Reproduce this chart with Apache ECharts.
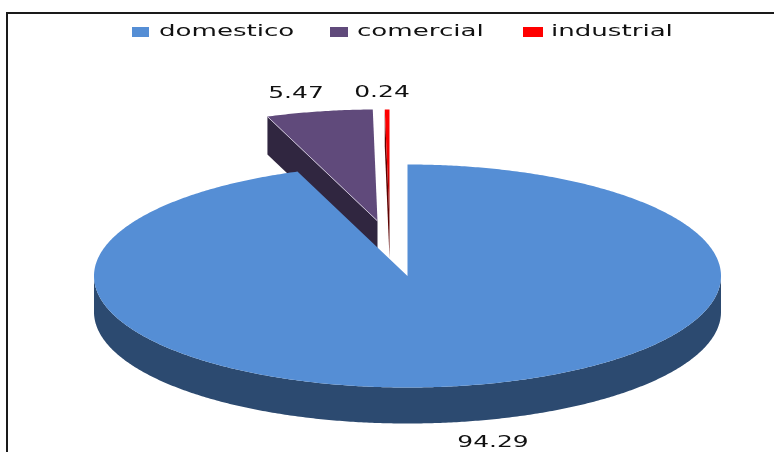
<!DOCTYPE html>
<html>
<head>
<meta charset="utf-8">
<style>
  html, body { margin: 0; padding: 0; background: #fff; }
  #chart { width: 774px; height: 452px; }
</style>
<script src="https://cdn.jsdelivr.net/npm/echarts@6/dist/echarts.min.js"></script>
</head>
<body>
<div id="chart"></div>
<script>
var categories = ["domestico", "comercial", "industrial"];
var values = [94.29, 5.47, 0.24];

var faceColors = ["#558ed5", "#604a7b", "#ff0000"];
var wallColors = ["#2c4a70", "#302640", "#5c0000"];

// ellipse of the tilted pie
var cx = 407.5, cy = 276, rx = 313.5, ry = 111.5;
// pulled out slices: offset and wall height
var sliceOffset = [[0, 0], [-30, -55], [-18, -55]];
var sliceDepth = [36, 38, 37];
var labelPos = [[493, 443], [296, 94], [382, 93]];
var legendIconX = [132, 330, 523];
var legendIconW = [17, 18, 20];
var legendTextX = [159, 357, 551];
var labelStretch = 1.56;
var legendStretch = 1.63;

var total = values.reduce(function (a, b) { return a + b; }, 0);

function rimPoint(center, deg, dy) {
  var a = deg * Math.PI / 180;
  return [center[0] + rx * Math.sin(a), center[1] - ry * Math.cos(a) + (dy || 0)];
}

function arc(center, from, to, dy) {
  var pts = [];
  for (var d = from; d < to; d += 0.5) pts.push(rimPoint(center, d, dy));
  pts.push(rimPoint(center, to, dy));
  return pts;
}

function renderSlice(params, api) {
  var i = params.dataIndex;
  var before = 0;
  for (var k = 0; k < i; k++) before += values[k];
  var start = before / total * 360;
  var end = (before + api.value(0)) / total * 360;
  var center = [cx + sliceOffset[i][0], cy + sliceOffset[i][1]];
  var depth = sliceDepth[i];
  var z = 10 - i;
  var children = [];

  // outer rim, only the front half is seen
  var from = Math.max(start, 90), to = Math.min(end, 270);
  if (to > from) {
    children.push({
      type: "polygon",
      z2: z,
      shape: { points: arc(center, from, to).concat(arc(center, from, to, depth).reverse()) },
      style: { fill: wallColors[i] }
    });
  }

  // cut face of the pulled out slices
  if (start > 180) {
    var tip = rimPoint(center, start);
    children.push({
      type: "polygon",
      z2: z,
      shape: { points: [tip, center, [center[0], center[1] + depth], [tip[0], tip[1] + depth]] },
      style: { fill: wallColors[i] }
    });
  }

  var fill = faceColors[i];
  if (i === 2) {
    fill = new echarts.graphic.LinearGradient(0, 0, 0, 1, [
      { offset: 0, color: "#ff0000" },
      { offset: 0.45, color: "#ee0000" },
      { offset: 1, color: "#7a0000" }
    ]);
  }
  children.push({
    type: "polygon",
    z2: z + 0.1,
    shape: { points: [center].concat(arc(center, start, end)) },
    style: { fill: fill }
  });

  if (i === 1) {
    children.push({
      type: "line",
      z2: z + 0.2,
      shape: { x1: rimPoint(center, start)[0], y1: rimPoint(center, start)[1], x2: center[0], y2: center[1] },
      style: { stroke: "#c8bfd4", lineWidth: 1 }
    });
  }

  children.push({
    type: "text",
    z2: 20,
    x: labelPos[i][0],
    y: labelPos[i][1],
    scaleX: labelStretch,
    style: {
      text: String(api.value(0)),
      font: "16px 'DejaVu Sans'",
      fill: "#111",
      textAlign: "center",
      textVerticalAlign: "middle"
    }
  });

  return { type: "group", children: children };
}

var legendItems = [];
categories.forEach(function (name, i) {
  legendItems.push({
    type: "rect",
    shape: { x: legendIconX[i], y: 27, width: legendIconW[i], height: 10 },
    style: { fill: faceColors[i] }
  });
  legendItems.push({
    type: "text",
    x: legendTextX[i],
    y: 32,
    scaleX: legendStretch,
    style: {
      text: name,
      font: "16px 'DejaVu Sans'",
      fill: "#111",
      textAlign: "left",
      textVerticalAlign: "middle"
    }
  });
});

// only the top and left border of the chart area are inside the picture
legendItems.push({
  type: "polyline",
  shape: { points: [[7, 452], [7, 13], [774, 13]] },
  style: { stroke: "#1a1a1a", lineWidth: 2, fill: null }
});

var myChart = echarts.init(document.getElementById("chart"));
myChart.setOption({
  animation: false,
  backgroundColor: "#fff",
  tooltip: { show: false },
  graphic: legendItems,
  series: [
    {
      type: "custom",
      coordinateSystem: "none",
      renderItem: renderSlice,
      data: values.map(function (v, i) { return { name: categories[i], value: [v] }; })
    }
  ]
});
</script>
</body>
</html>
